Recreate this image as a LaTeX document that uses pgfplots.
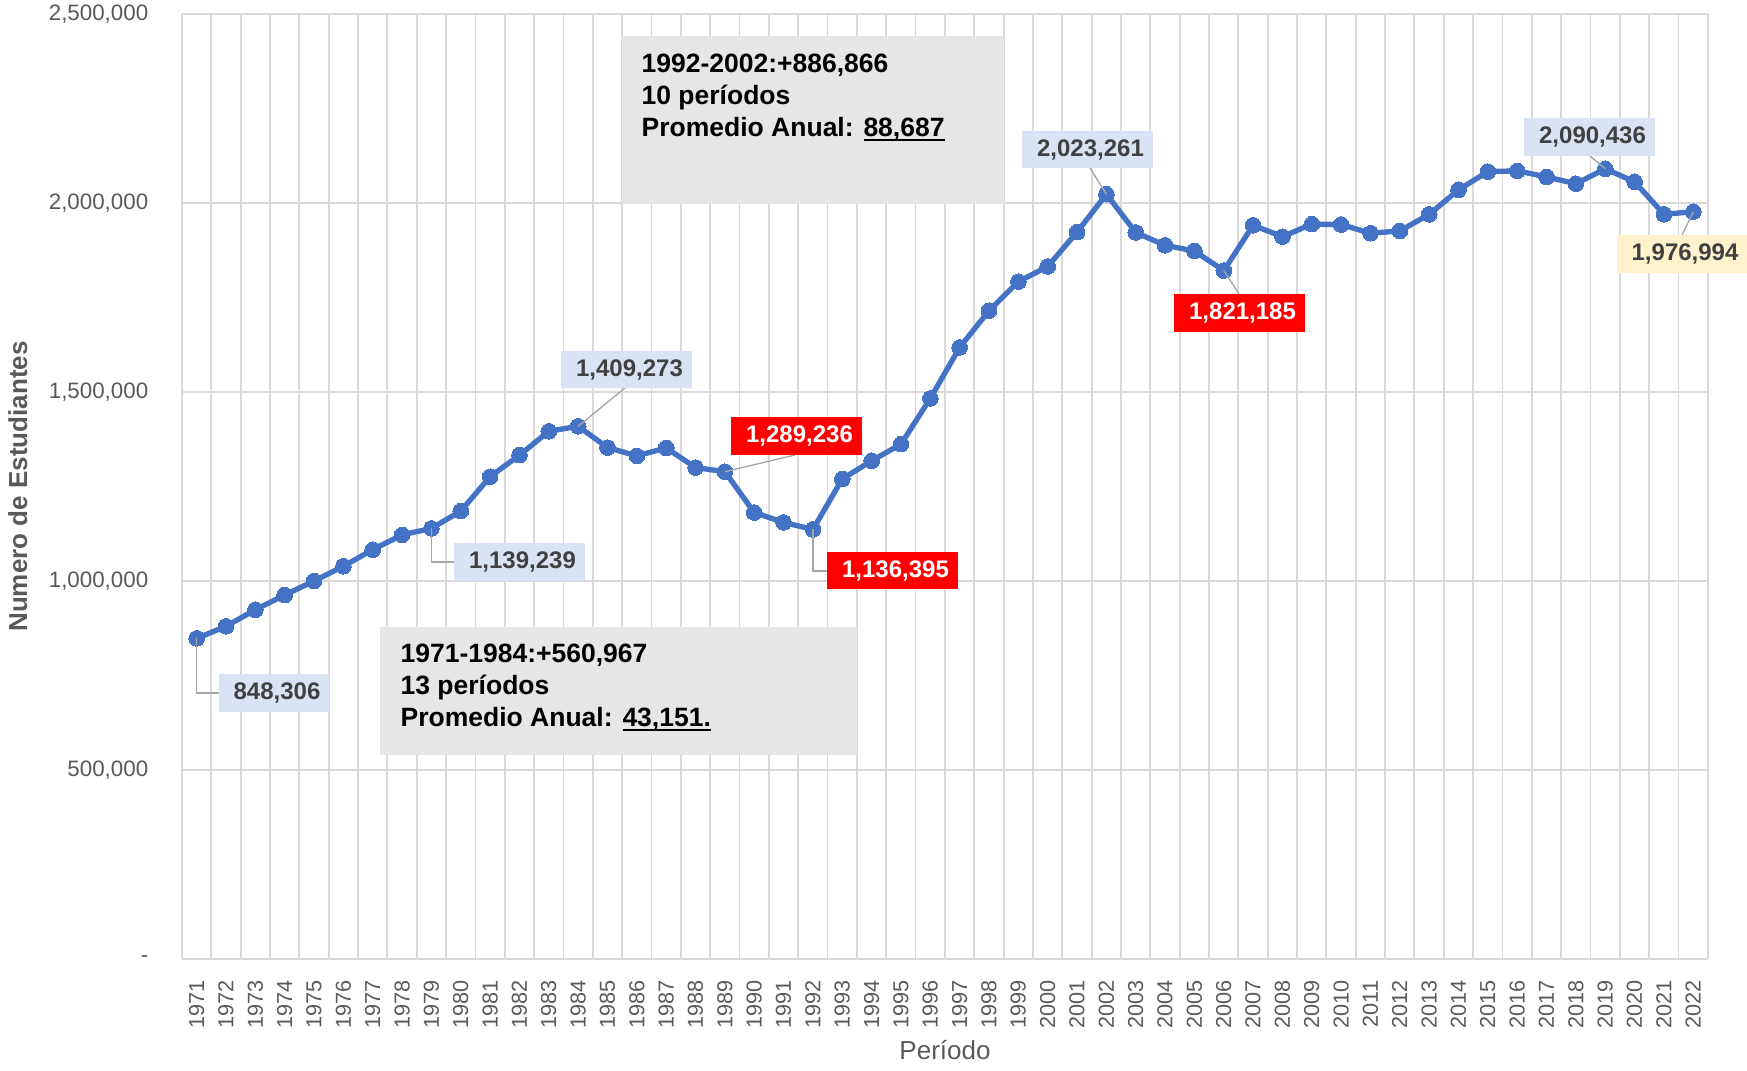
\documentclass[border=0pt]{standalone}
\usepackage{fontspec}
\setmainfont{Liberation Sans}
\usepackage{pgfplots}
\pgfplotsset{compat=1.18}
\usepackage{pgfplotstable}
\definecolor{linblue}{HTML}{4472C4}
\definecolor{gridgray}{HTML}{D9D9D9}
\definecolor{tickgray}{HTML}{595959}
\definecolor{lblgray}{HTML}{404040}
\definecolor{lblblue}{HTML}{DAE3F3}
\definecolor{lblred}{HTML}{FF0000}
\definecolor{lblyellow}{HTML}{FFF2CC}
\definecolor{boxgray}{HTML}{E6E6E6}
\definecolor{leadgray}{HTML}{A6A6A6}

\pgfplotstableread{
year students
1971 848306
1972 880000
1973 924000
1974 963000
1975 1000000
1976 1039000
1977 1083000
1978 1122000
1979 1139239
1980 1185000
1981 1276000
1982 1333000
1983 1396000
1984 1409273
1985 1353000
1986 1331000
1987 1352000
1988 1300000
1989 1289236
1990 1181000
1991 1155000
1992 1136395
1993 1270000
1994 1318000
1995 1362000
1996 1483000
1997 1618000
1998 1715000
1999 1792000
2000 1832000
2001 1923000
2002 2023261
2003 1922000
2004 1888000
2005 1873000
2006 1821185
2007 1941000
2008 1911000
2009 1944000
2010 1943000
2011 1920000
2012 1926000
2013 1970000
2014 2035000
2015 2083000
2016 2085000
2017 2069000
2018 2051000
2019 2090436
2020 2056000
2021 1970000
2022 1976994
}\students

% underline tight to the baseline, like the reference
\newcommand{\ul}[1]{\setbox0\hbox{#1}\rlap{\rule[-1.1pt]{\wd0}{0.55pt}}#1}

\begin{document}
\begin{tikzpicture}
\begin{axis}[
  scale only axis,
  width=457.8pt, height=283.5pt,
  xmin=1970.5, xmax=2022.5,
  ymin=0, ymax=2500000,
  xtick={1971,...,2022},
  minor xtick={1970.5,1971.5,...,2022.5},
  xminorgrids=true, xmajorgrids=false, ymajorgrids=true,
  grid style={draw=gridgray, line width=0.55pt},
  minor grid style={draw=gridgray, line width=0.55pt},
  axis line style={draw=none},
  major tick length=0pt, minor tick length=0pt,
  ytick={0,500000,1000000,1500000,2000000,2500000},
  yticklabels={{-\hspace{6pt}},{500,000},{1,000,000},{1,500,000},{2,000,000},{2,500,000}},
  scaled y ticks=false,
  /pgf/number format/assume math mode=true,
  x tick label style={/pgf/number format/1000 sep={}, rotate=90, anchor=east,
    font=\fontsize{6.5}{7}\selectfont, text=tickgray, xshift=-3pt},
  y tick label style={font=\fontsize{6.7}{7}\selectfont, text=tickgray, xshift=-6.6pt},
  xlabel={Período},
  ylabel={Numero de Estudiantes},
  every axis x label/.style={at={(axis description cs:0.5,-0.0963)}, anchor=center,
    font=\fontsize{7.8}{9}\selectfont, text=tickgray},
  every axis y label/.style={at={(axis description cs:-0.1075,0.5)}, rotate=90, anchor=center,
    font=\fontsize{7.8}{9}\selectfont\bfseries, text=tickgray},
  clip=false,
]
\addplot[color=linblue, line width=1.6pt, mark=*, mark size=2.35pt,
  mark options={fill=linblue, draw=linblue, line width=0pt}] table[x=year, y=students] {\students};
\coordinate (p71) at (axis cs:1971,848306);
\coordinate (p79) at (axis cs:1979,1139239);
\coordinate (p84) at (axis cs:1984,1409273);
\coordinate (p89) at (axis cs:1989,1289236);
\coordinate (p92) at (axis cs:1992,1136395);
\coordinate (p02) at (axis cs:2002,2023261);
\coordinate (p06) at (axis cs:2006,1821185);
\coordinate (p19) at (axis cs:2019,2090436);
\coordinate (p22) at (axis cs:2022,1976994);
\end{axis}

\begin{scope}[x=0.3pt, y=-0.3pt, shift={(-182,-959)}]
  % summary boxes
  \fill[boxgray] (622,36) rectangle (1004,204);
  \begin{scope}[every node/.style={anchor=base west, inner sep=0pt, font=\fontsize{7.95}{9}\selectfont\bfseries, text=black}]
    \node at (641,73) {1992-2002:+886,866};
    \node at (641,105) {10 períodos};
    \node at (641,137) {Promedio Anual: \ul{88,687}};
  \end{scope}
  \fill[boxgray] (380,627) rectangle (857,755);
  \begin{scope}[every node/.style={anchor=base west, inner sep=0pt, font=\fontsize{7.95}{9}\selectfont\bfseries, text=black}]
    \node at (400,663) {1971-1984:+560,967};
    \node at (400,695) {13 períodos};
    \node at (400,727) {Promedio Anual: \ul{43,151.}};
  \end{scope}

  % leader lines
  \begin{scope}[draw=leadgray, line width=0.4pt]
    \draw (p71) |- (219,693);
    \draw (p79) |- (454,562);
    \draw (p84) -- (625,388);
    \draw (p89) -- (795,455);
    \draw (p92) |- (827,571);
    \draw (p02) -- (1090,168);
    \draw (p06) -- (1239,294);
    \draw (p19) -- (1590,156);
    \draw (p22) -- (1682,235);
  \end{scope}

  % data labels
  \newcommand{\lbl}[7]{%
    \fill[#5] (#1,#2) rectangle (#3,#4);
    \node[inner sep=0pt, text=#6, font=\fontsize{7.2}{8}\selectfont\bfseries]
      at ({(#1+#3)/2+3},{(#2+#4)/2}) {#7};}
  \lbl{219}{674}{329}{712}{lblblue}{lblgray}{848,306}
  \lbl{454}{543}{585}{581}{lblblue}{lblgray}{1,139,239}
  \lbl{561}{351}{692}{388}{lblblue}{lblgray}{1,409,273}
  \lbl{731}{417}{862}{455}{lblred}{white}{1,289,236}
  \lbl{827}{552}{958}{589}{lblred}{white}{1,136,395}
  \lbl{1022}{131}{1153}{168}{lblblue}{lblgray}{2,023,261}
  \lbl{1174}{294}{1305}{332}{lblred}{white}{1,821,185}
  \lbl{1524}{118}{1655}{156}{lblblue}{lblgray}{2,090,436}
  \lbl{1617}{235}{1747}{273}{lblyellow}{lblgray}{1,976,994}
\end{scope}

\pgfresetboundingbox
\path[use as bounding box] (-54.6pt,-33.3pt) rectangle (469.5pt,287.7pt);
\end{tikzpicture}
\end{document}
